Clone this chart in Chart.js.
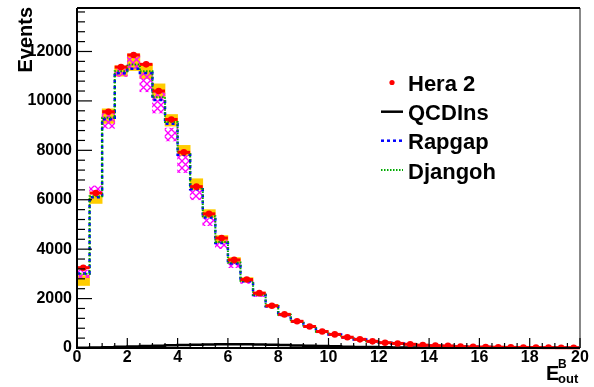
<!DOCTYPE html>
<html>
<head>
<meta charset="utf-8">
<script src="https://cdn.jsdelivr.net/npm/chart.js@4.4.0/dist/chart.umd.min.js"></script>
<style>
  html, body { margin: 0; padding: 0; background: #fff; }
  #wrap { width: 594px; height: 387px; }
</style>
</head>
<body>
<div id="wrap"><canvas id="eout" width="594" height="387"></canvas></div>
<script>
// bins of E_out^B (low edges), width 0.5
const binLow = [0, 0.5, 1, 1.5, 2, 2.5, 3, 3.5, 4, 4.5, 5, 5.5, 6, 6.5, 7, 7.5, 8, 8.5, 9, 9.5,
                10, 10.5, 11, 11.5, 12, 12.5, 13, 13.5, 14, 14.5, 15, 15.5, 16, 16.5, 17, 17.5, 18, 18.5, 19, 19.5];
const binWidth = 0.5;

// Hera 2 data and stat errors
const hera = [3250, 6270, 9560, 11370, 11860, 11480, 10400, 9250, 7920, 6530, 5430, 4450, 3565, 2770, 2220, 1710, 1360, 1080, 870, 665,
              550, 435, 350, 270, 215, 185, 150, 115, 95, 85, 55, 45, 40, 32, 25, 22, 18, 15, 12, 10];
const heraErr = [60, 80, 100, 110, 110, 110, 105, 100, 90, 80, 75, 70, 60, 55, 50, 45, 40, 35, 30, 28,
                 25, 22, 20, 18, 16, 15, 13, 12, 11, 10, 8, 7, 7, 6, 5, 5, 5, 4, 4, 3];

// MC predictions
const qcdins = [8, 20, 35, 50, 65, 80, 95, 108, 120, 132, 142, 150, 152, 150, 143, 132, 120, 106, 92, 78,
                66, 55, 45, 37, 30, 24, 19, 15, 12, 10, 8, 6, 5, 4, 3, 3, 2, 2, 1, 1];
const rapgap = [3020, 6100, 9260, 11120, 11300, 11130, 10040, 9080, 7820, 6420, 5280, 4250, 3420, 2700, 2140, 1690, 1340, 1070, 860, 660,
                545, 430, 345, 268, 212, 180, 148, 115, 95, 82, 56, 46, 40, 32, 26, 22, 18, 15, 12, 10];
const djangoh = [3000, 6140, 9320, 11200, 11470, 11200, 10150, 9150, 7890, 6480, 5330, 4290, 3460, 2720, 2160, 1700, 1350, 1075, 865, 662,
                 548, 432, 348, 270, 214, 182, 149, 116, 96, 84, 57, 46, 40, 32, 26, 22, 18, 15, 12, 10];

// uncertainty bands (yellow boxes / magenta hatched boxes)
const yellowLo = [2530, 5850, 9090, 11000, 11230, 10900, 10120, 8980, 7780, 6400, 5280, 4260, 3410, 2680, 2130, 1650, 1310, 1040, 840, 640,
                  528, 418, 335, 258, 205, 176, 143, 110, 91, 80, 52, 43, 38, 30, 24, 21, 17, 14, 11, 9];
const yellowHi = [2930, 6150, 9680, 11420, 11900, 11500, 10690, 9450, 8200, 6850, 5600, 4550, 3660, 2850, 2260, 1760, 1400, 1110, 900, 690,
                  570, 452, 362, 282, 225, 194, 157, 122, 100, 90, 58, 48, 42, 34, 26, 23, 19, 16, 13, 11];
const hatchLo = [2850, 6280, 8890, 10990, 11310, 10370, 9510, 8380, 7100, 6000, 4950, 4020, 3250, 2610, 2080, 1640, 1300, 1030, 830, 630,
                 520, 410, 330, 255, 202, 172, 140, 108, 88, 78, 50, 42, 36, 29, 23, 20, 16, 13, 10, 8];
const hatchHi = [3150, 6560, 9600, 11300, 11830, 11130, 10400, 8900, 7780, 6480, 5240, 4340, 3450, 2760, 2200, 1720, 1370, 1090, 885, 680,
                 560, 445, 358, 278, 222, 190, 155, 120, 98, 88, 57, 47, 41, 33, 26, 23, 19, 16, 13, 11];

const xTicks = [0, 2, 4, 6, 8, 10, 12, 14, 16, 18, 20];
const yTicks = [0, 2000, 4000, 6000, 8000, 10000, 12000];

const FONT = 'Liberation Sans, Arial, Helvetica, sans-serif';

function boxes(lo, hi) {
  return binLow.map((x, i) => ({ x: x + binWidth / 2, y: [lo[i], hi[i]] }));
}
function steps(vals) {
  const pts = binLow.map((x, i) => ({ x: x, y: vals[i] }));
  pts.push({ x: binLow[binLow.length - 1] + binWidth, y: vals[vals.length - 1] });
  return pts;
}

function hatchPattern() {
  const c = document.createElement('canvas');
  c.width = 7; c.height = 7;
  const g = c.getContext('2d');
  g.strokeStyle = '#ff00ff';
  g.lineWidth = 1.3;
  g.beginPath();
  g.moveTo(0, 0); g.lineTo(7, 7);
  g.moveTo(7, 0); g.lineTo(0, 7);
  g.stroke();
  return g.createPattern(c, 'repeat');
}

// red error bars under the data points
const errorBars = {
  id: 'errorBars',
  beforeDatasetDraw(chart, args) {
    if (args.index !== 5) return;
    const ctx = chart.ctx, xs = chart.scales.x, ys = chart.scales.y;
    ctx.save();
    ctx.strokeStyle = '#ff0000';
    binLow.forEach((lo, i) => {
      const y = ys.getPixelForValue(hera[i]);
      ctx.lineWidth = 3;
      ctx.beginPath();
      ctx.moveTo(xs.getPixelForValue(lo), y);
      ctx.lineTo(xs.getPixelForValue(lo + binWidth), y);
      ctx.stroke();
      const xc = xs.getPixelForValue(lo + binWidth / 2);
      ctx.lineWidth = 1.5;
      ctx.beginPath();
      ctx.moveTo(xc, ys.getPixelForValue(hera[i] - heraErr[i]));
      ctx.lineTo(xc, ys.getPixelForValue(hera[i] + heraErr[i]));
      ctx.stroke();
    });
    ctx.restore();
  }
};

// ROOT-like frame, inner ticks, legend and axis titles
const frame = {
  id: 'frame',
  afterDraw(chart) {
    const ctx = chart.ctx, a = chart.chartArea, xs = chart.scales.x, ys = chart.scales.y;
    ctx.save();
    // frame
    ctx.strokeStyle = '#888';
    ctx.lineWidth = 2;
    ctx.beginPath(); ctx.moveTo(a.right, a.top); ctx.lineTo(a.right, a.bottom); ctx.stroke();
    ctx.strokeStyle = '#000';
    ctx.beginPath(); ctx.moveTo(a.left, a.top); ctx.lineTo(a.right, a.top); ctx.stroke();
    ctx.beginPath(); ctx.moveTo(a.left, a.top); ctx.lineTo(a.left, a.bottom); ctx.lineTo(a.right, a.bottom); ctx.stroke();

    // x ticks
    ctx.lineWidth = 1.2;
    for (let v = 0; v <= 20; v += 0.5) {
      const px = xs.getPixelForValue(v);
      const len = (v % 2 === 0) ? 10 : 5;
      ctx.beginPath(); ctx.moveTo(px, a.bottom); ctx.lineTo(px, a.bottom - len); ctx.stroke();
    }
    // y ticks
    for (let v = 0; v <= ys.max; v += 400) {
      const py = ys.getPixelForValue(v);
      const len = (v % 2000 === 0) ? 15 : 8;
      ctx.beginPath(); ctx.moveTo(a.left, py); ctx.lineTo(a.left + len, py); ctx.stroke();
    }

    // legend
    ctx.fillStyle = '#ff0000';
    ctx.beginPath(); ctx.arc(392, 82.5, 2.6, 0, Math.PI * 2); ctx.fill();
    ctx.lineWidth = 2.5;
    ctx.strokeStyle = '#000';
    ctx.beginPath(); ctx.moveTo(381, 111.7); ctx.lineTo(403, 111.7); ctx.stroke();
    ctx.strokeStyle = '#0000ff';
    ctx.setLineDash([3, 3]);
    ctx.beginPath(); ctx.moveTo(381, 140.7); ctx.lineTo(403, 140.7); ctx.stroke();
    ctx.strokeStyle = '#00aa00';
    ctx.lineWidth = 2;
    ctx.setLineDash([1.5, 1.5]);
    ctx.beginPath(); ctx.moveTo(381, 170); ctx.lineTo(403, 170); ctx.stroke();
    ctx.setLineDash([]);
    ctx.fillStyle = '#000';
    ctx.font = 'bold 22px ' + FONT;
    ctx.textBaseline = 'alphabetic';
    ctx.textAlign = 'left';
    ctx.fillText('Hera 2', 408, 91);
    ctx.fillText('QCDIns', 408, 120);
    ctx.fillText('Rapgap', 408, 149);
    ctx.fillText('Djangoh', 408, 178.5);

    // x axis title E^B_out
    ctx.font = 'bold 20px ' + FONT;
    ctx.fillText('E', 546, 380);
    ctx.font = 'bold 12px ' + FONT;
    ctx.fillText('B', 558, 368);
    ctx.font = 'bold 13px ' + FONT;
    ctx.fillText('out', 558, 383);

    // y axis title, right-aligned at the top
    ctx.save();
    ctx.translate(31.5, 7);
    ctx.rotate(-Math.PI / 2);
    ctx.textAlign = 'right';
    ctx.font = 'bold 20px ' + FONT;
    ctx.fillText('Events', 0, 0);
    ctx.restore();
    ctx.restore();
  }
};

const ctx = document.getElementById('eout').getContext('2d');
const myChart = new Chart(ctx, {
  type: 'bar',
  data: {
    datasets: [
      {
        label: 'band',
        data: boxes(yellowLo, yellowHi),
        backgroundColor: '#ffcc00',
        borderWidth: 0,
        grouped: false,
        barPercentage: 1,
        categoryPercentage: 1,
        order: 6
      },
      {
        label: 'hatched band',
        data: boxes(hatchLo, hatchHi),
        backgroundColor: hatchPattern(),
        borderWidth: 0,
        grouped: false,
        barPercentage: 1,
        categoryPercentage: 1,
        order: 5
      },
      {
        type: 'line',
        label: 'QCDIns',
        data: steps(qcdins),
        stepped: 'before',
        borderColor: '#000',
        borderWidth: 2.5,
        pointRadius: 0,
        fill: false,
        order: 4
      },
      {
        type: 'line',
        label: 'Rapgap',
        data: steps(rapgap),
        stepped: 'before',
        borderColor: '#0000ff',
        borderWidth: 2.5,
        borderDash: [3, 3],
        pointRadius: 0,
        fill: false,
        order: 3
      },
      {
        type: 'line',
        label: 'Djangoh',
        data: steps(djangoh),
        stepped: 'before',
        borderColor: '#00aa00',
        borderWidth: 2,
        borderDash: [1.5, 1.5],
        pointRadius: 0,
        fill: false,
        order: 2
      },
      {
        type: 'line',
        label: 'Hera 2',
        data: binLow.map((x, i) => ({ x: x + binWidth / 2, y: hera[i] })),
        showLine: false,
        pointRadius: 3.3,
        pointBackgroundColor: '#ff0000',
        pointBorderWidth: 0,
        order: 1
      }
    ]
  },
  options: {
    responsive: false,
    animation: false,
    layout: { padding: { left: 0, right: 14, top: 8, bottom: 0 } },
    plugins: { legend: { display: false }, tooltip: { enabled: false } },
    scales: {
      x: {
        type: 'linear',
        min: 0,
        max: 20,
        offset: false,
        afterFit: s => { s.height = 39; s.paddingLeft = 0; s.paddingRight = 0; },
        afterBuildTicks: s => { s.ticks = xTicks.map(v => ({ value: v })); },
        grid: { display: false, drawTicks: false },
        border: { display: false },
        ticks: {
          autoSkip: false,
          maxRotation: 0,
          padding: 0,
          color: '#000',
          callback: v => String(v),
          font: { family: FONT, size: 16, weight: 'bold' }
        }
      },
      y: {
        min: 0,
        max: 13760,
        afterFit: s => { s.width = 77; s.paddingTop = 0; s.paddingBottom = 0; },
        afterBuildTicks: s => { s.ticks = yTicks.map(v => ({ value: v })); },
        grid: { display: false, drawTicks: false },
        border: { display: false },
        ticks: {
          autoSkip: false,
          padding: 5,
          color: '#000',
          callback: v => String(v),
          font: { family: FONT, size: 16, weight: 'bold' }
        }
      }
    }
  },
  plugins: [errorBars, frame]
});
</script>
</body>
</html>
